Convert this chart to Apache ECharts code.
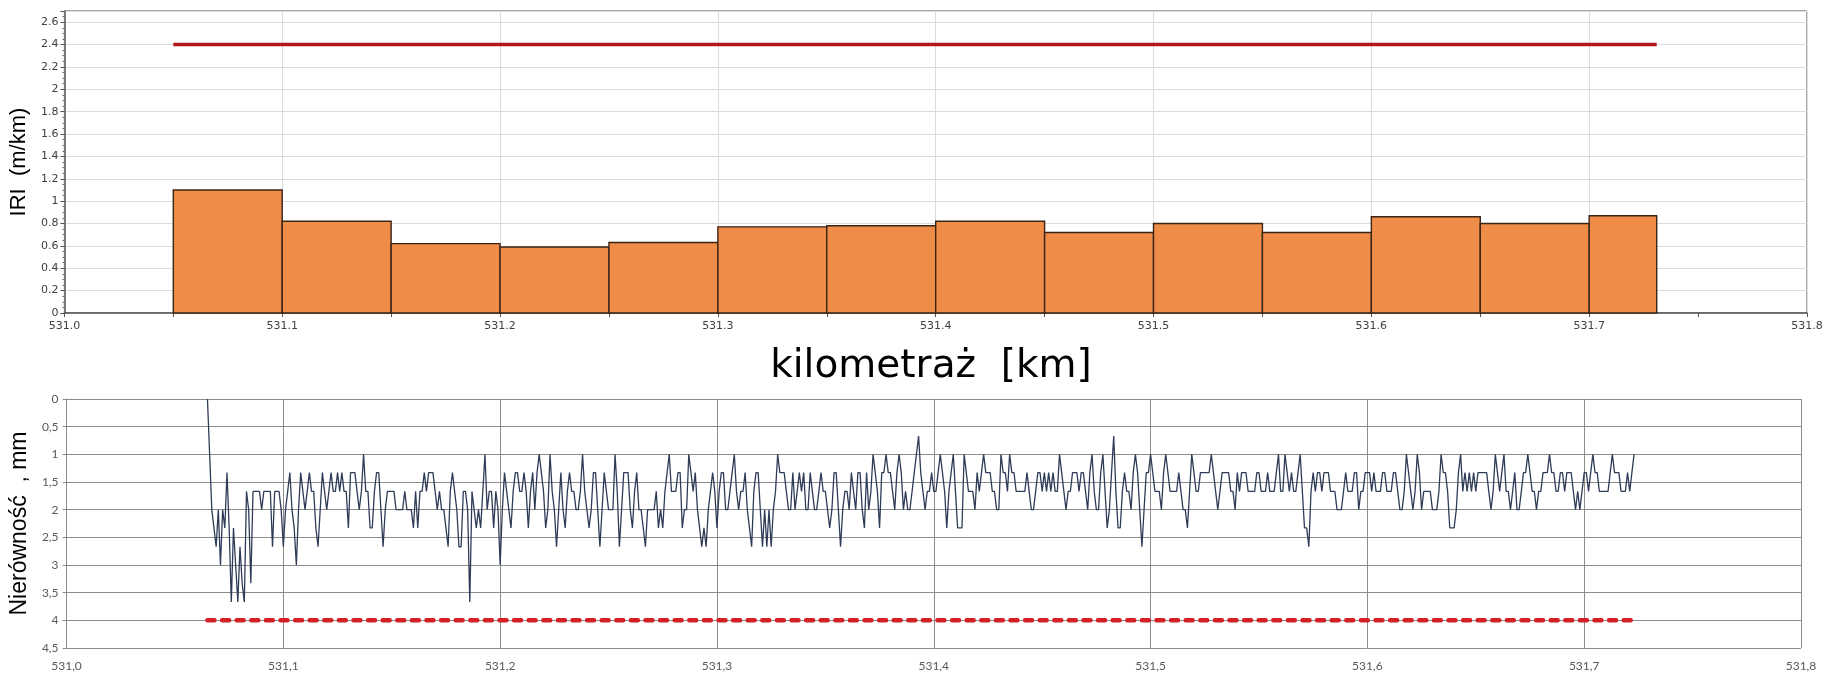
<!DOCTYPE html>
<html>
<head>
<meta charset="utf-8">
<script src="https://cdn.jsdelivr.net/npm/echarts@6/dist/echarts.min.js"></script>
<style>
html,body{margin:0;padding:0;background:#fff;}
#chart{width:1827px;height:673px;}
</style>
</head>
<body>
<div id="chart"></div>
<script>
// ---- IRI (top chart) ----
const iriStart  = [531.05, 531.10, 531.15, 531.20, 531.25, 531.30, 531.35, 531.40, 531.45, 531.50, 531.55, 531.60, 531.65, 531.70];
const iriEnd    = [531.10, 531.15, 531.20, 531.25, 531.30, 531.35, 531.40, 531.45, 531.50, 531.55, 531.60, 531.65, 531.70, 531.731];
const iriValues = [1.10, 0.82, 0.62, 0.59, 0.63, 0.77, 0.78, 0.82, 0.72, 0.80, 0.72, 0.86, 0.80, 0.87];
const iriLimitKm = [531.05, 531.731];
const iriLimitValue = 2.4;

// ---- Nierówność (bottom chart) ----
const unevenStartKm = 531.065;
const unevenStepKm = 0.001;
const unevenValues = [
0,1,2,2.33,2.67,2,3,2,2.33,1.33,
2.33,3.67,2.33,3,3.67,2.67,3.33,3.67,1.67,2,
3.33,1.67,1.67,1.67,1.67,2,1.67,1.67,1.67,1.67,
2.67,1.67,1.67,1.67,2,2.67,2,1.67,1.33,2,
2.33,3,2,1.33,1.67,2,1.67,1.33,1.67,1.67,
2.33,2.67,2,1.33,1.67,2,1.67,1.33,1.67,1.67,
1.33,1.67,1.33,1.67,1.67,2.33,1.33,1.33,1.33,1.67,
2,1.67,1,1.67,1.67,2.33,2.33,1.67,1.33,1.33,
2,2.67,2,1.67,1.67,1.67,1.67,2,2,2,
2,1.67,2,2,2,2.33,1.67,2.33,1.67,1.67,
1.33,1.67,1.33,1.33,1.33,1.67,2,1.67,2,2,
2.33,2.67,1.67,1.33,1.67,2,2.67,2.67,1.67,1.67,
2,3.67,1.67,2,2.33,2,2.33,1.67,1,2,
1.67,1.67,2.33,1.67,2,3,2,1.33,1.67,2,
2.33,1.67,1.33,1.33,1.67,1.67,1.33,1.67,2.33,1.67,
1.33,2,1.33,1,1.33,1.67,2.33,2,1,1.67,
2,2.67,2,1.33,2,2.33,1.67,1.33,1.67,1.67,
2,2,1.67,1,1.67,2,2.33,2,1.33,1.33,
2,2.67,2,1.33,1.67,2,2,2,1,1.67,
2.67,2,1.33,1.33,1.33,2,2.33,1.67,1.33,2,
2,2.33,2.67,2,2,2,2,1.67,2.33,2,
2.33,1.67,1.33,1,1.67,1.67,1.67,1.33,1.33,2.33,
2,2,1,1.33,1.67,1.33,2,2.33,2.67,2.33,
2.67,2,1.67,1.33,1.67,2.33,1.67,1.33,1.33,2,
2,1.67,1.33,1,1.67,2,1.67,1.67,1.33,2,
2.33,2.67,1.67,1.33,1.33,2,2.67,2,2.67,2,
2.67,2,1.67,1,1.33,1.33,1.33,1.67,2,2,
1.33,2,1.67,1.33,1.67,1.33,2,2,1.33,1.67,
2,2,1.67,1.33,1.67,1.67,2,2.33,2,1.33,
1.33,2,2.67,2,1.67,1.67,2,1.33,1.67,2,
1.33,1.33,2,2.33,1.33,2,1.67,1,1.33,1.67,
2.33,1.33,1.33,1,1.33,1.33,1.67,2,1.33,1,
1.33,2,1.67,2,2,1.67,1.33,1,0.67,1.33,
1.67,2,1.67,1.67,1.33,1.67,1.67,1.33,1,1.33,
1.67,2.33,1.67,1.33,1,1.67,2.33,2.33,2.33,1,
1.33,1.67,1.67,1.67,2,1.33,1.67,1.33,1,1.33,
1.33,1.33,1.67,1.67,2,2,1,
1.33,1.33,1.67,1,1.33,1.33,1.67,1.67,1.67,1.67,
1.67,1.33,1.67,2,2,1.67,1.33,1.33,1.67,1.33,
1.67,1.33,1.67,1.33,1.67,1.67,1,1.33,1.67,2,
1.67,1.67,1.33,1.33,1.33,1.67,1.33,1.33,1.67,2,
1.33,1,1.67,2,2,1.33,1,1.67,2.33,2,
1.33,0.67,1.67,2.33,2.33,1.67,1.33,1.67,1.67,2,
1.33,1,1.33,2,2.67,2,1.33,1.33,1,1.33,
1.67,1.67,1.67,2,1.33,1,1.33,1.67,1.67,1.67,
1.67,1.33,1.67,2,2,2.33,1.67,1,1.33,1.67,
1.67,1.33,1.33,1.33,1.33,1.33,1,1.33,1.67,2,
1.67,1.33,1.33,1.33,1.33,1.67,1.67,2,1.33,1.67,
1.33,1.33,1.33,1.67,1.67,1.67,1.67,1.33,1.33,1.67,
1.67,1.67,1.33,1.67,1.67,1.67,1.33,1,1.67,1.67,
1,1.33,1.67,1.33,1.67,1.67,1.33,1,1.67,2.33,
2.33,2.67,1.67,1.33,1.67,1.33,1.33,1.67,1.33,1.33,
1.33,1.67,1.67,1.67,2,2,2,1.67,1.33,1.67,
1.67,1.67,1.33,1.33,2,1.67,1.67,1.33,1.33,1.33,
1.67,1.33,1.67,1.67,1.67,1.33,1.33,1.67,1.67,1.67,
1.33,1.33,1.67,2,2,1.67,1,1.33,1.67,2,
1.67,1,1.33,2,1.67,1.67,1.67,1.67,2,2,
2,1.67,1,1.33,1.33,1.67,2.33,
2.33,2.33,2,1.33,1,1.67,1.33,1.67,1.33,1.67,
1.33,1.67,1.33,1.33,1.33,1.33,1.33,1.67,2,1.67,
1,1.33,1.67,1.33,1,1.67,1.67,2,1.67,1.33,
2,2,1.67,1.33,1.33,1,1.33,1.67,1.67,2,
1.67,1.67,1.33,1.33,1.33,1,1.33,1.33,1.67,1.67,
1.33,1.33,1.67,1.33,1.33,1.33,1.67,2,1.67,2,
1.67,1.33,1.33,1.67,1.33,1,1.33,1.33,1.67,1.67,
1.67,1.67,1.67,1.33,1,1.33,1.33,1.33,1.67,1.67,
1.67,1.33,1.67,1.33,1
];
const unevenLimitKm = [531.065, 531.723];
const unevenLimitValue = 4;

// ---- axis ticks ----
const kmMin = 531.0, kmMax = 531.8, kmStep = 0.1;
const iriMin = 0, iriMax = 2.7, iriStep = 0.2;
const unevenMin = 0, unevenMax = 4.5, unevenStep = 0.5;

const iriBars = iriValues.map((v, i) => [iriStart[i], iriEnd[i], v]);
const unevenData = unevenValues.map((v, i) => [+(unevenStartKm + i * unevenStepKm).toFixed(3), v]);

const chart = echarts.init(document.getElementById('chart'), null, {renderer: 'canvas'});

const topFont = 'DejaVu Sans';
const botFont = 'Lato';

chart.setOption({
  animation: false,
  backgroundColor: '#ffffff',
  graphic: [{
    type: 'text',
    x: 931, y: 367,
    style: {
      text: 'kilometraż  [km]',
      fontFamily: 'DejaVu Sans',
      fontSize: 39,
      fill: '#000',
      align: 'center',
      verticalAlign: 'middle'
    }
  }],
  grid: [
    {left: 64, right: 20, top: 11, height: 302, show: true, borderColor: '#555', borderWidth: 1, backgroundColor: 'transparent'},
    {left: 64, right: 26, top: 399, height: 249, show: false}
  ],
  xAxis: [
    {
      type: 'value', gridIndex: 0, min: kmMin, max: kmMax, interval: kmStep,
      axisLine: {lineStyle: {color: '#555', width: 1.5}},
      axisTick: {show: true, length: 4, lineStyle: {color: '#555'}},
      minorTick: {show: true, splitNumber: 2, length: 4, lineStyle: {color: '#555'}},
      splitLine: {show: true, lineStyle: {color: '#dcdcdc', width: 1}},
      axisLabel: {fontFamily: topFont, fontSize: 11, color: '#404040', margin: 8,
        formatter: v => v.toFixed(1)}
    },
    {
      type: 'value', gridIndex: 1, min: kmMin, max: kmMax, interval: kmStep,
      axisLine: {lineStyle: {color: '#8c8c8c', width: 1}},
      axisTick: {show: false},
      splitLine: {show: true, lineStyle: {color: '#8c8c8c', width: 1}},
      axisLabel: {fontFamily: botFont, fontSize: 12, color: '#595959', margin: 12,
        formatter: v => v.toFixed(1).replace('.', ',')}
    }
  ],
  yAxis: [
    {
      type: 'value', gridIndex: 0, min: iriMin, max: iriMax, interval: iriStep,
      name: 'IRI  (m/km)', nameLocation: 'middle', nameGap: 28,
      nameTextStyle: {fontFamily: 'Liberation Sans', fontSize: 22, color: '#000'},
      axisLine: {show: true, lineStyle: {color: '#555', width: 1.5}},
      axisTick: {show: true, length: 4, lineStyle: {color: '#555'}},
      minorTick: {show: true, splitNumber: 4, length: 2, lineStyle: {color: '#777'}},
      splitLine: {show: true, lineStyle: {color: '#dcdcdc', width: 1}},
      axisLabel: {fontFamily: topFont, fontSize: 11, color: '#404040', margin: 6, showMaxLabel: false}
    },
    {
      type: 'value', gridIndex: 1, min: unevenMin, max: unevenMax, interval: unevenStep, inverse: true,
      name: 'Nierówność  , mm', nameLocation: 'middle', nameGap: 28,
      nameTextStyle: {fontFamily: 'Liberation Sans', fontSize: 23, color: '#000'},
      axisLine: {show: true, lineStyle: {color: '#8c8c8c', width: 1}},
      axisTick: {show: true, length: 4, lineStyle: {color: '#8c8c8c'}},
      splitLine: {show: true, lineStyle: {color: '#8c8c8c', width: 1}},
      axisLabel: {fontFamily: botFont, fontSize: 12, color: '#595959', margin: 8,
        formatter: v => String(v).replace('.', ',')}
    }
  ],
  series: [
    {
      type: 'custom', xAxisIndex: 0, yAxisIndex: 0, silent: true, z: 3,
      data: iriBars,
      encode: {x: [0, 1], y: 2},
      renderItem: function (params, api) {
        const p0 = api.coord([api.value(0), api.value(2)]);
        const p1 = api.coord([api.value(1), 0]);
        return {
          type: 'rect',
          shape: {x: p0[0], y: p0[1], width: p1[0] - p0[0], height: p1[1] - p0[1]},
          style: {fill: '#ef8d48', stroke: '#3a2416', lineWidth: 1.4}
        };
      }
    },
    {
      type: 'line', xAxisIndex: 0, yAxisIndex: 0, silent: true, z: 4,
      symbol: 'none',
      data: iriLimitKm.map(k => [k, iriLimitValue]),
      lineStyle: {color: '#b3161b', width: 3.5}
    },
    {
      type: 'line', xAxisIndex: 1, yAxisIndex: 1, silent: true, z: 4,
      symbol: 'none',
      data: unevenData,
      lineStyle: {color: '#2e3c58', width: 1.3}
    },
    {
      type: 'line', xAxisIndex: 1, yAxisIndex: 1, silent: true, z: 5,
      symbol: 'none',
      data: unevenLimitKm.map(k => [k, unevenLimitValue]),
      lineStyle: {color: '#d42024', width: 4.5, type: [7, 7.6], cap: 'round'}
    }
  ]
});
</script>
</body>
</html>
